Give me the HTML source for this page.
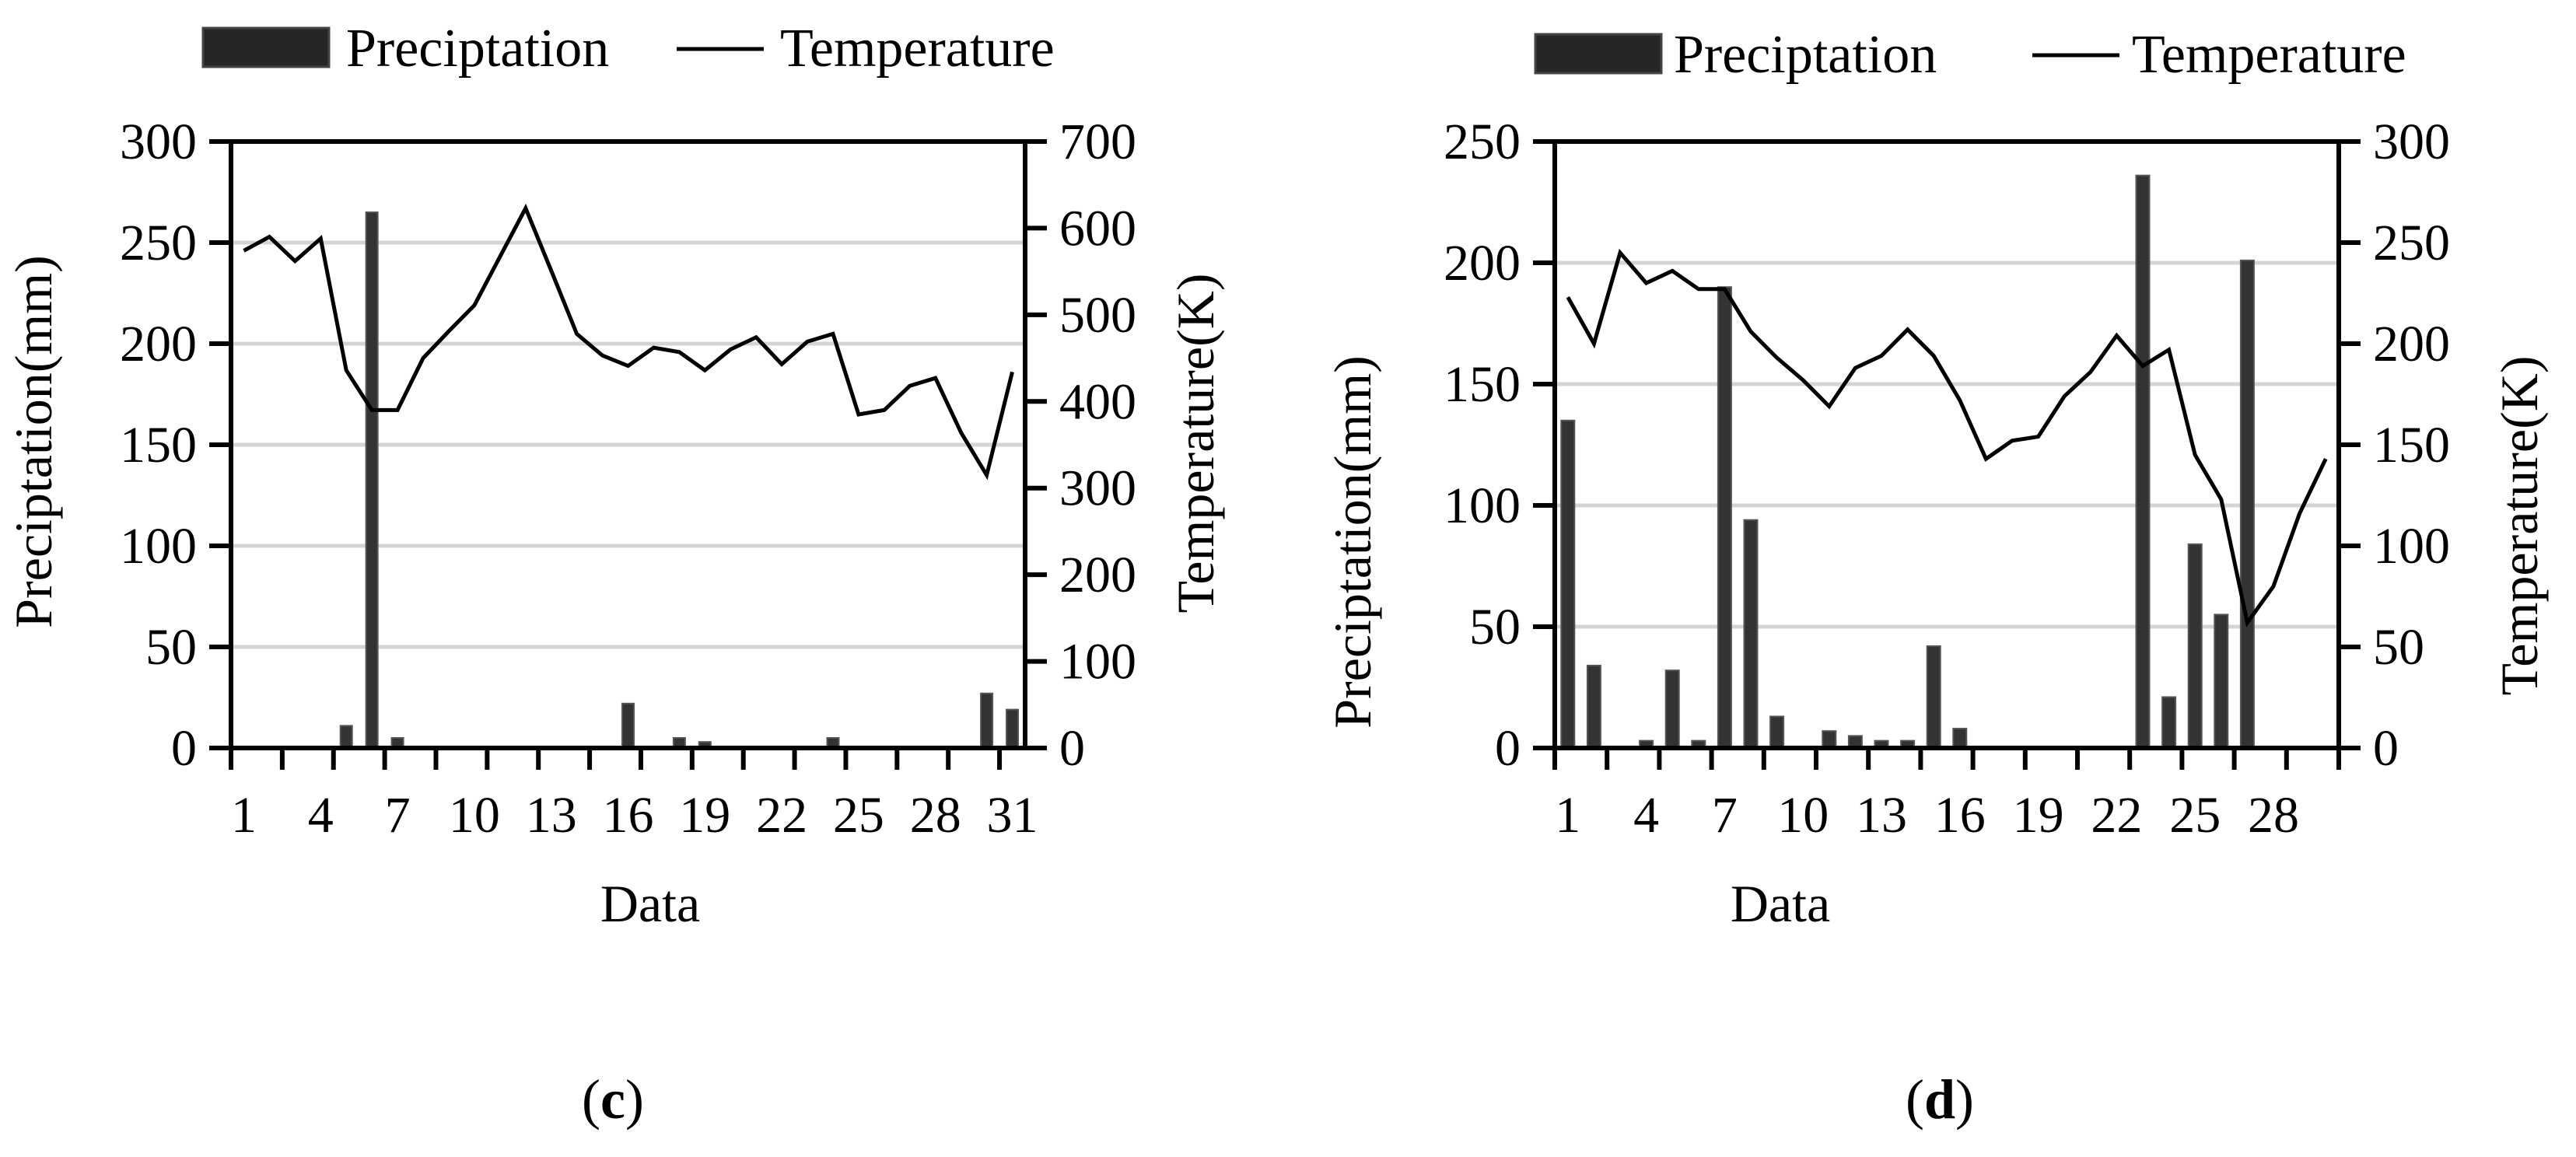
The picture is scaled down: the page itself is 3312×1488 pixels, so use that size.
<!DOCTYPE html>
<html><head><meta charset="utf-8"><style>
html,body{margin:0;padding:0;background:#fff;}
svg{display:block;font-family:"Liberation Serif","DejaVu Serif",serif;}
</style></head><body>
<svg id="fig" width="3312" height="1488" viewBox="0 0 3312 1488" xmlns="http://www.w3.org/2000/svg"></svg>
<script>
// Chart (c) data
const cDays = Array.from({length:31},(_,i)=>i+1);
const cPrecip = [0,0,0,0,11,265,5,0,0,0,0,0,0,0,0,22,0,5,3,0,0,0,0,5,0,0,0,0,0,27,19];
const cTemp = [574,590,562,588,436,390,390,450,481,511,567,623,551,478,453,441,462,457,436,460,474,443,469,478,385,390,418,427,364,315,434];
const cLeftTicks = [0,50,100,150,200,250,300];
const cRightTicks = [0,100,200,300,400,500,600,700];
// Chart (d) data
const dDays = Array.from({length:30},(_,i)=>i+1);
const dPrecip = [135,34,0,3,32,3,190,94,13,0,7,5,3,3,42,8,0,0,0,0,0,0,236,21,84,55,201,0,0,0];
const dTemp = [223,200,245,230,236,227,227,206,193,182,169,188,194,207,194,172,143,152,154,174,186,204,189,197,145,123,62,80,116,143];
const dLeftTicks = [0,50,100,150,200,250];
const dRightTicks = [0,50,100,150,200,250,300];

const NS='http://www.w3.org/2000/svg';
const svg=document.getElementById('fig');
function mk(tag,attrs,parent,text){const e=document.createElementNS(NS,tag);for(const k in attrs)e.setAttribute(k,attrs[k]);if(text!==undefined)e.textContent=text;(parent||svg).appendChild(e);return e;}

function chart(o){
  const g=mk('g',{});
  
  
  const n=o.days.length, L=o.left, R=o.right, T=182, B=962;
  const cw=(R-L)/n;
  const xc=i=>L+cw*(i+0.5);
  const yl=v=>B-(v/o.lmax)*(B-T);
  const yr=v=>B-(v/o.rmax)*(B-T);
  o.lticks.forEach(v=>{ if(v>0&&v<o.lmax){const l=mk('line',{x1:L,x2:R,y1:yl(v),y2:yl(v),stroke:'#d4d4d4','stroke-width':5},g);
    
    }});
  o.precip.forEach((v,i)=>{ if(v<=0)return; const r=mk('rect',{x:xc(i)-o.bw/2,y:yl(v),width:o.bw,height:B-yl(v),fill:'#333',stroke:'#555','stroke-width':2},g);
    
    });
  const pts=o.temp.map((v,i)=>xc(i).toFixed(1)+','+yr(v).toFixed(1)).join(' ');
  const pl=mk('polyline',{points:pts,fill:'none',stroke:'#000','stroke-width':5,'stroke-linejoin':'miter'},g);
  
  
  const ax=mk('path',{d:`M${L},${T}H${R}M${L},${T-3}V${B}M${R},${T-3}V${B}M${L-3},${B}H${R+3}`,stroke:'#000','stroke-width':6,fill:'none'},g);
  
  
  o.lticks.forEach(v=>{mk('line',{x1:L-28,x2:L,y1:yl(v),y2:yl(v),stroke:'#000','stroke-width':6},g);
    const t=mk('text',{x:L-44,y:yl(v)+22,'text-anchor':'end','font-size':66},g,String(v));
    
    });
  o.rticks.forEach(v=>{mk('line',{x1:R,x2:R+28,y1:yr(v),y2:yr(v),stroke:'#000','stroke-width':6},g);
    const t=mk('text',{x:R+44,y:yr(v)+22,'text-anchor':'start','font-size':66},g,String(v));
    
    });
  for(let k=0;k<=n;k+=2){mk('line',{x1:L+k*cw,x2:L+k*cw,y1:B,y2:B+28,stroke:'#000','stroke-width':6},g);}
  o.days.forEach((d,i)=>{ if(i%3!==0)return; const t=mk('text',{x:xc(i),y:1070,'text-anchor':'middle','font-size':66},g,String(d));
    
    });
  const xt=mk('text',{x:o.dataX,y:1185,'text-anchor':'middle','font-size':68},g,'Data');
  
  
  const lt=mk('text',{x:0,y:0,'text-anchor':'middle','font-size':68,transform:`translate(${o.ltX},${o.ltY}) rotate(-90)`},g,'Preciptation(mm)');
  
  
  const rt=mk('text',{x:0,y:0,'text-anchor':'middle','font-size':68,transform:`translate(${o.rtX},${o.rtY}) rotate(-90)`},g,'Temperature(K)');
  
  
  const lg=mk('g',{},g);
  
  
  mk('rect',{x:o.lg[0],y:o.lg[1],width:162,height:50,fill:'#262626',stroke:'#444','stroke-width':3},lg);
  mk('text',{x:o.lg[2],y:o.lg[1]+49,'font-size':70},lg,'Preciptation');
  mk('line',{x1:o.lg[3],x2:o.lg[3]+112,y1:o.lg[1]+27,y2:o.lg[1]+27,stroke:'#000','stroke-width':5},lg);
  mk('text',{x:o.lg[4],y:o.lg[1]+49,'font-size':70},lg,'Temperature');
  const cap=mk('text',{x:o.capX,y:1438,'text-anchor':'middle','font-size':72},g);
  
  
  mk('tspan',{},cap,'(');mk('tspan',{'font-weight':'bold'},cap,o.cap);mk('tspan',{},cap,')');
}
chart({name:'chart-c',days:cDays,precip:cPrecip,temp:cTemp,lticks:cLeftTicks,rticks:cRightTicks,lmax:300,rmax:700,
  left:297,right:1318,bw:15,dataX:836,ltX:66,ltY:568,rtX:1560,rtY:570,lg:[261,36,445,870,1003],capX:788,cap:'c'});
chart({name:'chart-d',days:dDays,precip:dPrecip,temp:dTemp,lticks:dLeftTicks,rticks:dRightTicks,lmax:250,rmax:300,
  left:1999,right:3007,bw:17,dataX:2289,ltX:1762,ltY:697,rtX:3262,rtY:676,lg:[1974,44,2152,2613,2741],capX:2494,cap:'d'});
</script>
</body></html>
